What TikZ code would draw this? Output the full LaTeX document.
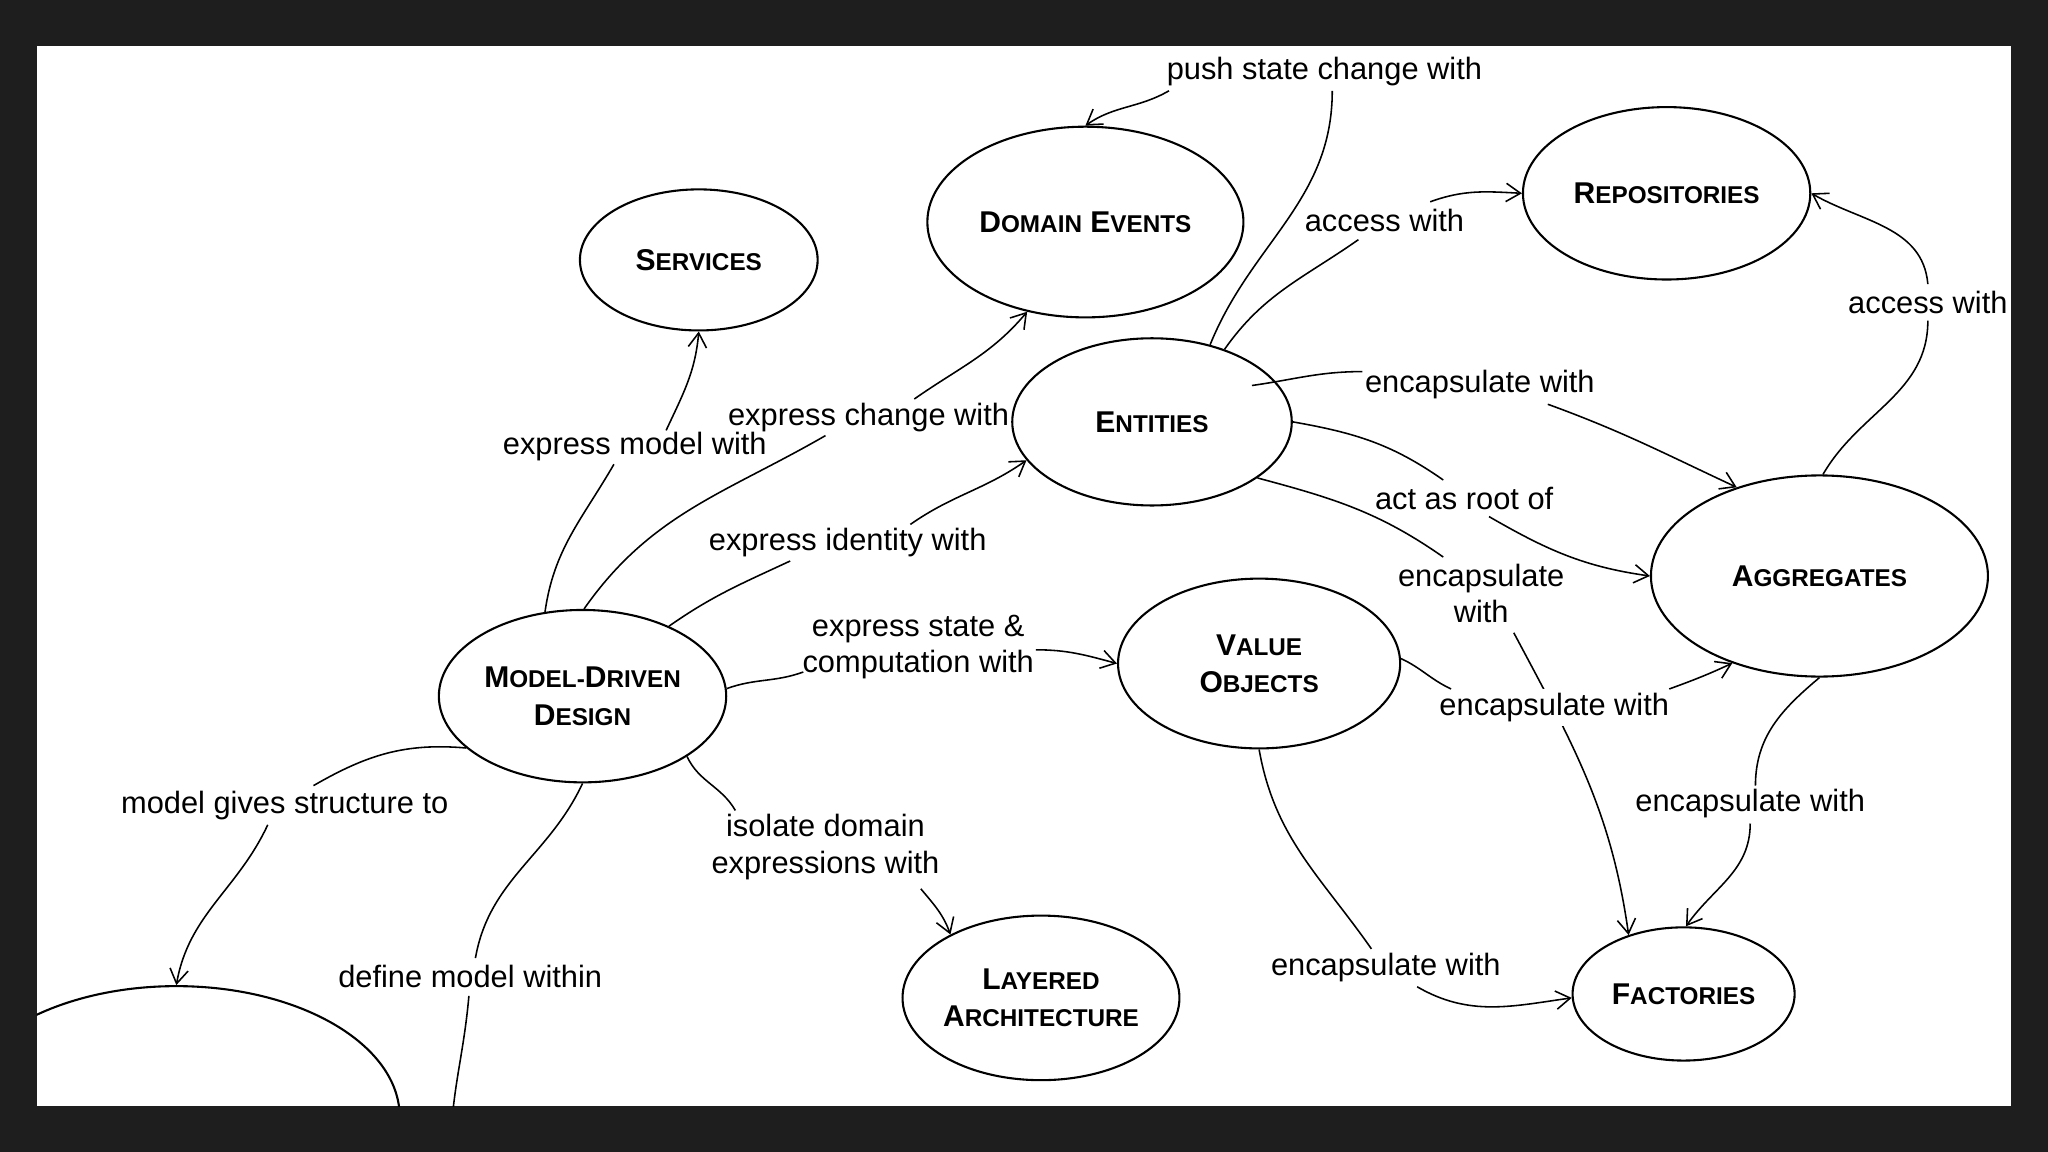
\documentclass[tikz,border=0pt]{standalone}
\usepackage{fontspec}
\setmainfont{Liberation Sans}
\usetikzlibrary{arrows.meta,calc,shapes.geometric}
\definecolor{frame}{RGB}{30,30,30}
\newcommand{\capsc}[2]{{\fontsize{11.5}{14.3}\selectfont #1}{\fontsize{9.3}{14.3}\selectfont #2}}
\tikzset{
  concept/.style={ellipse, draw, line width=0.8pt, inner sep=0pt, align=center,
    font=\fontsize{11.5}{14.3}\selectfont\bfseries},
  lbl/.style={font=\fontsize{11.8}{14}\selectfont, inner sep=1.5pt, align=center, yshift=-1.25pt},
  edge/.style={line width=0.6pt},
  arr/.style={edge, -{Straight Barb[length=5.5pt,width=7pt]}}
}
\begin{document}
\begin{tikzpicture}[x=0.5pt,y=0.5pt]
\useasboundingbox (0,0) rectangle (1568,-882);
\fill[frame] (0,0) rectangle (1568,-882);
\fill[white] (28,-35) rectangle (1540,-847);
\begin{scope}
\clip (28,-35) rectangle (1540,-847);
% concepts
\node[concept, minimum width=91pt, minimum height=54pt] (svc) at (535,-199) {\capsc{S}{ERVICES}};
\node[concept, minimum width=121pt, minimum height=73pt] (de) at (831,-170) {\capsc{D}{OMAIN} \capsc{E}{VENTS}};
\node[concept, minimum width=110pt, minimum height=66pt] (rep) at (1276,-148) {\capsc{R}{EPOSITORIES}};
\node[concept, minimum width=107pt, minimum height=64pt] (ent) at (882,-323) {\capsc{E}{NTITIES}};
\node[concept, minimum width=129pt, minimum height=77pt] (agg) at (1393,-441) {\capsc{A}{GGREGATES}};
\node[concept, minimum width=110pt, minimum height=66pt] (mdd) at (446,-533) {\capsc{M}{ODEL-}\capsc{D}{RIVEN}\\\capsc{D}{ESIGN}};
\node[concept, minimum width=108pt, minimum height=65pt] (vo) at (964,-508) {\capsc{V}{ALUE}\\\capsc{O}{BJECTS}};
\node[concept, minimum width=105pt, minimum height=63pt] (la) at (797,-764) {\capsc{L}{AYERED}\\\capsc{A}{RCHITECTURE}};
\node[concept, minimum width=85pt, minimum height=51pt] (fac) at (1289,-761) {\capsc{F}{ACTORIES}};
\node[concept, minimum width=171pt, minimum height=100pt] (bl) at (135,-855) {};
\coordinate (offb) at (345,-885);
% labels
\node[lbl] (l1) at (486,-339) {express model with};
\node[lbl] (l2) at (665,-317) {express change with};
\node[lbl] (l3) at (649,-413) {express identity with};
\node[lbl] (l4) at (703,-493) {express state \&\\computation with};
\node[lbl] (l5) at (632,-646) {isolate domain\\expressions with};
\node[lbl] (l6) at (218,-614) {model gives structure to};
\node[lbl] (l7) at (360,-745) {define model within};
\node[lbl] (l8) at (1014,-52) {push state change with};
\node[lbl] (l9) at (1060,-166) {access with};
\node[lbl] (l10) at (1133,-292) {encapsulate with};
\node[lbl] (l11) at (1121,-379) {act as root of};
\node[lbl] (l12) at (1134,-452) {encapsulate\\with};
\node[lbl] (l13) at (1476,-229) {access with};
\node[lbl] (l15) at (1061,-738) {encapsulate with};
\node[lbl] (l16) at (1340,-613) {encapsulate with};
% connectors
\draw[edge] (mdd.114) to[out=82,in=240] ($(l1)+(-16,-14)$);
\draw[arr] ($(l1)+(24,12)$) to[out=65,in=-95] (svc.270);
\draw[edge] (mdd.89) to[out=55,in=210] ($(l2)+(-33,-14)$);
\draw[arr] ($(l2)+(35,14)$) to[out=35,in=230] (de.237);
\draw[edge] (mdd.39) to[out=35,in=205] ($(l3)+(-44,-14)$);
\draw[arr] ($(l3)+(48,14)$) to[out=35,in=215] (ent.197);
\draw[edge] (mdd.3) to[out=20,in=200] ($(l4)+(-88,-19)$);
\draw[arr] ($(l4)+(90,-2)$) to[out=0,in=165] (vo.180);
\draw[edge] (mdd.-30) to[out=-65,in=120] ($(l5)+(-69,28)$);
\draw[arr] ($(l5)+(73,-32)$) to[out=-50,in=110] (la.145);
\draw[edge] (mdd.204) to[out=175,in=30] ($(l6)+(22,15)$);
\draw[arr] ($(l6)+(-13,-15)$) to[out=-115,in=80] (bl.90);
\draw[edge] (mdd.270) to[out=-115,in=80] ($(l7)+(4,14)$);
\draw[edge] ($(l7)+(-1,-15)$) to[out=-95,in=90] (offb);
\draw[edge] (ent.53) to[out=68,in=-90] ($(l8)+(6,-15)$);
\draw[arr] ($(l8)+(-119,-15)$) to[out=-150,in=35] (de.90);
\draw[edge] (ent.45) to[out=55,in=215] ($(l9)+(-20,-15)$);
\draw[arr] ($(l9)+(35,14)$) to[out=20,in=177] (rep.180);
\draw[edge] ($(ent.center)!0.83!(ent.20)$) to[out=8,in=180] ($(l10)+(-90,10)$);
\draw[arr] ($(l10)+(52,-15)$) to[out=-20,in=155] (agg.133);
\draw[edge] (ent.0) to[out=-10,in=145] ($(l11)+(-16,14)$);
\draw[arr] ($(l11)+(19,-14)$) to[out=-30,in=172] (agg.180);
\draw[edge] (ent.-28) to[out=-15,in=145] ($(l12)+(-29,28)$);
\draw[arr] ($(l12)+(25,-30)$) to[out=-62,in=98] (fac.133);
\draw[edge] (agg.88) to[out=60,in=-90] ($(l13)+(0,-14)$);
\draw[arr] ($(l13)+(0,14)$) to[out=95,in=-30] (rep.0);
% this label masks the Entities-Factories connector that passes behind it
\node[lbl, fill=white] (l14) at (1190,-539) {encapsulate with};
\draw[edge] (vo.2) to[out=-25,in=155] ($(l14)+(-79,14)$);
\draw[arr] ($(l14)+(88,14)$) to[out=20,in=205] (agg.225);
\draw[edge] (vo.270) to[out=-80,in=125] ($(l15)+(-11,14)$);
\draw[arr] ($(l15)+(24,-15)$) to[out=-30,in=188] (fac.182);
\draw[edge] (agg.270) to[out=-140,in=90] ($(l16)+(4,14)$);
\draw[arr] ($(l16)+(0,-15)$) to[out=-90,in=55] (fac.88);
\end{scope}
\end{tikzpicture}
\end{document}
